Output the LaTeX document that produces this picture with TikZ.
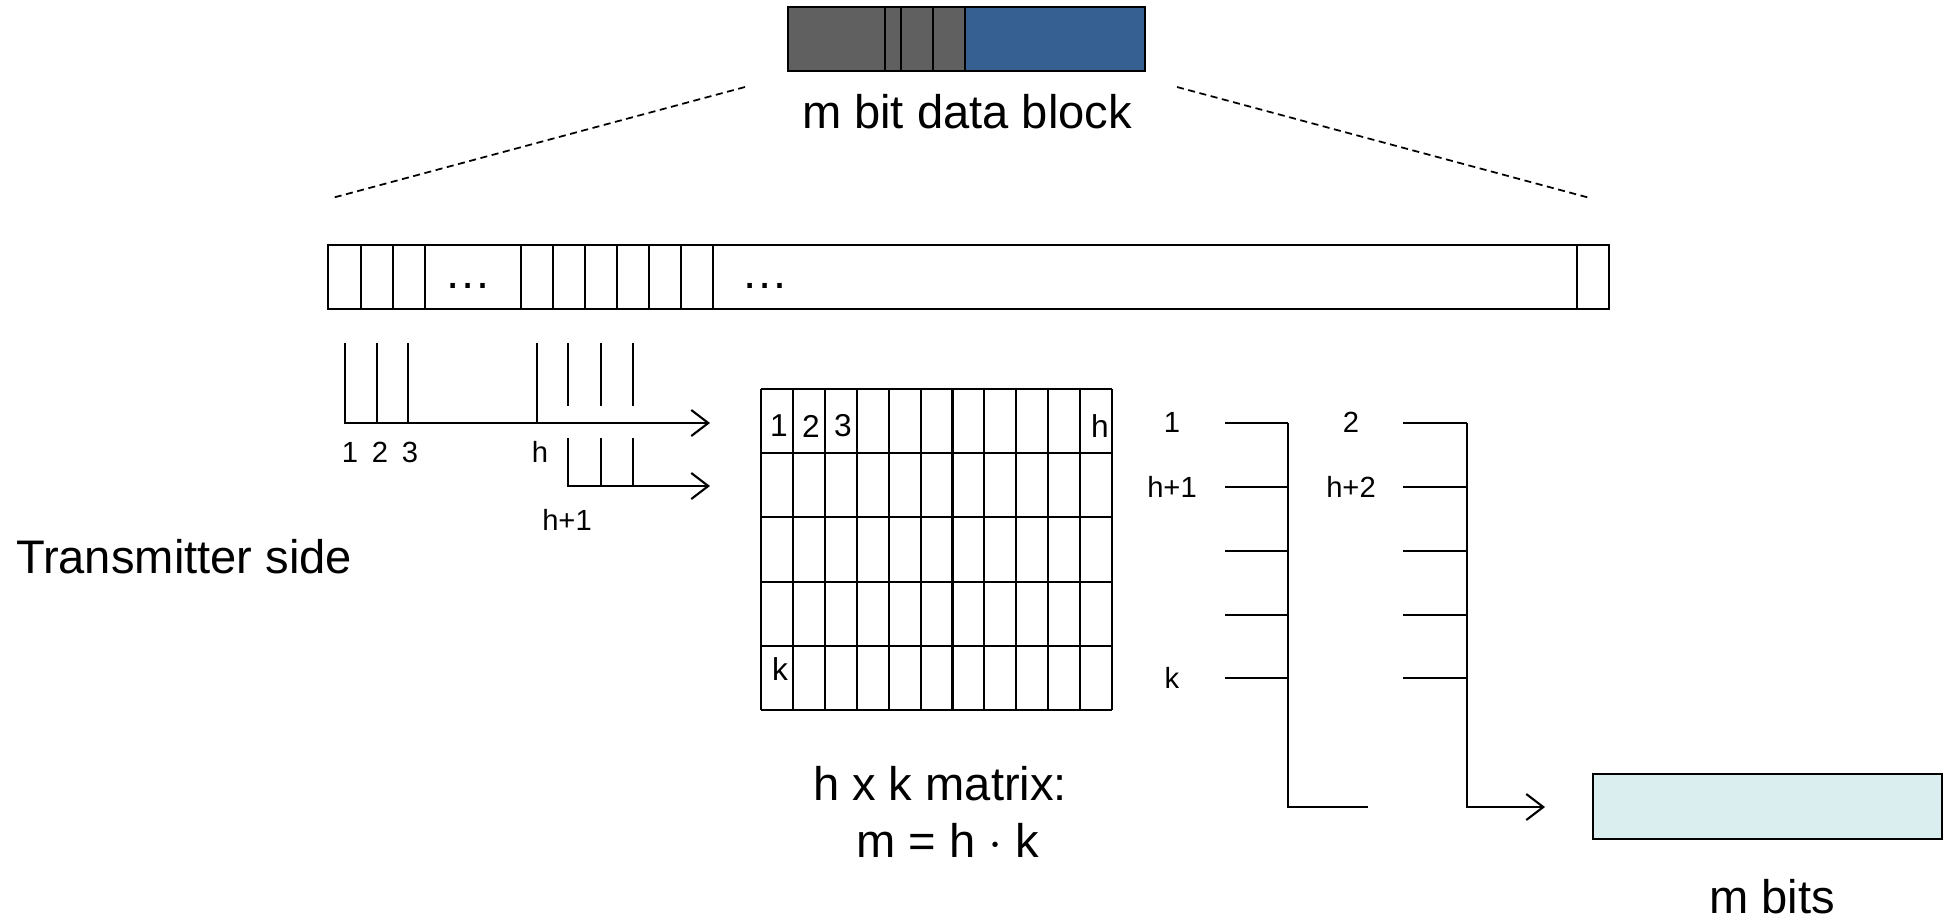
\documentclass[tikz,border=0pt]{standalone}
\usepackage{fontspec}
\setmainfont{Liberation Sans}
\usetikzlibrary{arrows.meta}
\definecolor{blockgray}{HTML}{606060}
\definecolor{blockblue}{HTML}{366092}
\definecolor{bitsfill}{HTML}{DAEDEF}

\begin{document}
\begin{tikzpicture}[x=0.01cm, y=-0.01cm, line width=0.6pt,
big text/.style   = {font=\fontsize{13.4}{16}\selectfont, inner sep=0pt},
small text/.style = {font=\fontsize{8.3}{10}\selectfont, inner sep=0pt},
cell text/.style  = {font=\fontsize{9}{11}\selectfont, inner sep=0pt},
zoom line/.style  = {line width=0.5pt, dash pattern=on 2pt off 1.3pt},
bit arrow/.style  = {-{Straight Barb[length=1.7mm, width=2.6mm]}}
                   ]
\useasboundingbox (0,0) rectangle (1952,920);
% m bit data block
\draw[fill=blockgray, line width=0.8pt] (788,7) coordinate (blk nw) rectangle (965,71);
\draw[fill=blockblue, line width=0.8pt] (965,7) rectangle (1145,71) coordinate (blk se);
\foreach \x in {885,901,933}
    \draw[line width=0.8pt] (\x,7) -- (\x,71);
\node[big text, anchor=base] (blk label) at (967,128) {m bit data block};
% zoom lines
\coordinate (zoom l1) at (745,87);
\coordinate (zoom l2) at (332,198);
\coordinate (zoom r1) at (1177,87);
\coordinate (zoom r2) at (1590,198);
\draw[zoom line] (zoom l1) -- (zoom l2);
\draw[zoom line] (zoom r1) -- (zoom r2);
% long bit row
\draw (328,245) coordinate (row nw) rectangle (1609,309) coordinate (row se);
\foreach \x in {361,393,425,521,553,585,617,649,681,713,1577}
    \draw (\x,245) -- (\x,309);
\node[big text, anchor=base] (dots a) at (468,288) {…};
\node[big text, anchor=base] (dots b) at (765,288) {…};
% bits fed into the rows
\coordinate (feed a) at (345,343);
\coordinate (feed a end) at (710,423);
\coordinate (feed b) at (568,438);
\coordinate (feed b end) at (710,486);
\draw[bit arrow] (feed a) |- (feed a end);
\draw[bit arrow] (feed b) |- (feed b end);
\foreach \x in {377,408,537}
    \draw (\x,343) -- (\x,423);
\foreach \x in {568,601,633}
    \draw (\x,343) -- (\x,406);
\foreach \x in {601,633}
    \draw (\x,438) -- (\x,486);
\foreach \x/\t in {350/1, 380/2, 410/3, 540/h}
    \node[small text] at (\x,452) {\t};
\node[small text] (lbl h1) at (567,520) {h+1};
% h x k matrix
\foreach \i in {0,...,11}
    \draw (761+\i*31.91,389) -- (761+\i*31.91,710);
\foreach \j in {0,...,5}
    \draw (761,389+\j*64.2) -- (1112,389+\j*64.2);
\foreach \x/\t in {779/1, 811/2, 843/3, 1100/h}
    \node[cell text] at (\x,426) {\t};
\node[cell text] (cell k) at (780,669) {k};
\node[big text, anchor=base] (mat a) at (940,800) {h x k matrix:};
\node[big text, anchor=base] (mat b) at (948,857) {m = h $\cdot$ k};
% read out by columns
\foreach \y in {423,487,551,615,678} {
    \draw (1225,\y) -- (1288,\y);
    \draw (1403,\y) -- (1467,\y);
}
\coordinate (col a) at (1288,423);
\coordinate (col a end) at (1368,807);
\coordinate (col b) at (1467,423);
\coordinate (col b end) at (1545,807);
\draw (col a) |- (col a end);
\draw[bit arrow] (col b) |- (col b end);
\foreach \t/\y in {1/422, h+1/487, k/678}
    \node[small text] at (1172,\y) {\t};
\foreach \t/\y in {2/422, h+2/487}
    \node[small text] at (1351,\y) {\t};
% m bits out
\draw[fill=bitsfill] (1593,774) coordinate (out nw) rectangle (1942,839) coordinate (out se);
\node[big text, anchor=base] (out label) at (1772,913) {m bits};
\node[big text, anchor=base west] (tx side) at (15,573) {Transmitter side};

\end{tikzpicture}
\end{document}
